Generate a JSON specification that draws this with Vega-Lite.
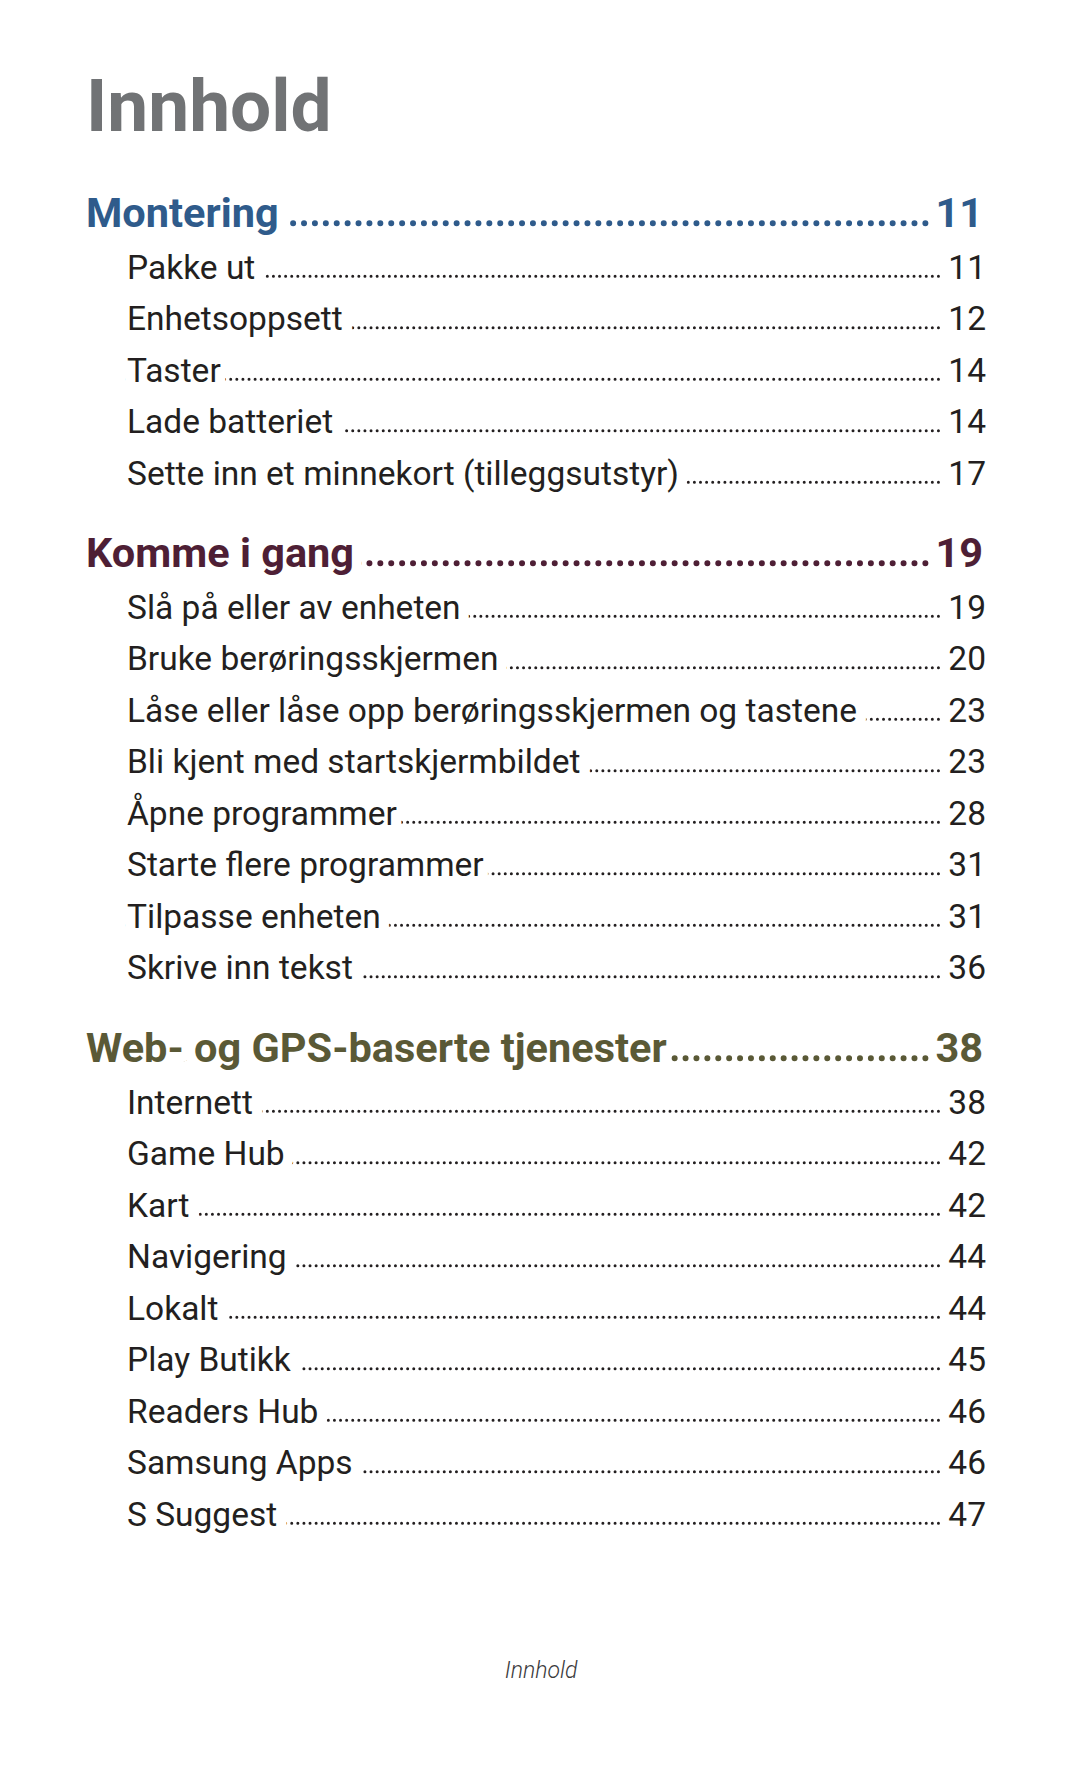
{
  "$schema": "https://vega.github.io/schema/vega-lite/v6.json",
  "background": "white",
  "padding": {"left": 86, "top": 40, "right": 10, "bottom": 10},
  "spacing": 43.5,
  "config": {"view": {"stroke": null}, "font": "Roboto"},
  "datasets": {
    "toc": [
      {"section": "Montering", "level": "section", "label": "Montering", "page": 11, "order": 0},
      {"section": "Montering", "level": "item", "label": "Pakke ut", "page": 11, "order": 1},
      {"section": "Montering", "level": "item", "label": "Enhetsoppsett", "page": 12, "order": 2},
      {"section": "Montering", "level": "item", "label": "Taster", "page": 14, "order": 3},
      {"section": "Montering", "level": "item", "label": "Lade batteriet", "page": 14, "order": 4},
      {"section": "Montering", "level": "item", "label": "Sette inn et minnekort (tilleggsutstyr)", "page": 17, "order": 5},
      {"section": "Komme i gang", "level": "section", "label": "Komme i gang", "page": 19, "order": 6},
      {"section": "Komme i gang", "level": "item", "label": "Slå på eller av enheten", "page": 19, "order": 7},
      {"section": "Komme i gang", "level": "item", "label": "Bruke berøringsskjermen", "page": 20, "order": 8},
      {"section": "Komme i gang", "level": "item", "label": "Låse eller låse opp berøringsskjermen og tastene", "page": 23, "order": 9},
      {"section": "Komme i gang", "level": "item", "label": "Bli kjent med startskjermbildet", "page": 23, "order": 10},
      {"section": "Komme i gang", "level": "item", "label": "Åpne programmer", "page": 28, "order": 11},
      {"section": "Komme i gang", "level": "item", "label": "Starte flere programmer", "page": 31, "order": 12},
      {"section": "Komme i gang", "level": "item", "label": "Tilpasse enheten", "page": 31, "order": 13},
      {"section": "Komme i gang", "level": "item", "label": "Skrive inn tekst", "page": 36, "order": 14},
      {"section": "Web- og GPS-baserte tjenester", "level": "section", "label": "Web- og GPS-baserte tjenester", "page": 38, "order": 15},
      {"section": "Web- og GPS-baserte tjenester", "level": "item", "label": "Internett", "page": 38, "order": 16},
      {"section": "Web- og GPS-baserte tjenester", "level": "item", "label": "Game Hub", "page": 42, "order": 17},
      {"section": "Web- og GPS-baserte tjenester", "level": "item", "label": "Kart", "page": 42, "order": 18},
      {"section": "Web- og GPS-baserte tjenester", "level": "item", "label": "Navigering", "page": 44, "order": 19},
      {"section": "Web- og GPS-baserte tjenester", "level": "item", "label": "Lokalt", "page": 44, "order": 20},
      {"section": "Web- og GPS-baserte tjenester", "level": "item", "label": "Play Butikk", "page": 45, "order": 21},
      {"section": "Web- og GPS-baserte tjenester", "level": "item", "label": "Readers Hub", "page": 46, "order": 22},
      {"section": "Web- og GPS-baserte tjenester", "level": "item", "label": "Samsung Apps", "page": 46, "order": 23},
      {"section": "Web- og GPS-baserte tjenester", "level": "item", "label": "S Suggest", "page": 47, "order": 24}
    ]
  },
  "vconcat": [
    {
      "width": 900,
      "height": 91,
      "data": {"values": [{"heading": "Innhold"}]},
      "mark": {"type": "text", "align": "left", "baseline": "alphabetic", "fontSize": 73, "fontWeight": "bold", "color": "#717375"},
      "encoding": {
        "text": {"field": "heading"},
        "x": {"value": 0},
        "y": {"value": "height"}
      }
    },
    {
      "data": {"name": "toc"},
      "bounds": "flush",
      "spacing": 31,
      "facet": {
        "row": {"field": "section", "type": "nominal", "title": null, "sort": {"field": "order", "op": "min"}, "header": {"labels": false, "title": null, "labelPadding": 0, "titlePadding": 0}}
      },
      "resolve": {"scale": {"y": "independent"}},
      "spec": {
        "width": 900,
        "height": {"step": 51.5},
        "encoding": {
          "y": {"field": "label", "type": "ordinal", "sort": {"field": "order", "op": "min"}, "axis": null, "bandPosition": 0.5},
          "x": {"field": "level", "type": "nominal", "axis": null, "scale": {"type": "point", "domain": ["section", "item"], "range": [0, 41], "padding": 0}}
        },
        "layer": [
          {
            "transform": [{"filter": "datum.level === 'item'"}],
            "mark": {"type": "rule", "strokeWidth": 3, "strokeDash": [0.001, 6.1], "strokeCap": "round", "color": "#231f20", "yOffset": 9.5, "x2Offset": -46, "clip": true},
            "encoding": {"x2": {"value": "width"}}
          },
          {
            "transform": [{"filter": "datum.level === 'section'"}],
            "mark": {"type": "rule", "strokeWidth": 6, "strokeDash": [0.001, 10.9], "strokeCap": "round", "yOffset": 8, "x2Offset": -52, "clip": true},
            "encoding": {
              "x2": {"value": "width"},
              "color": {"field": "section", "type": "nominal", "legend": null, "scale": {"domain": ["Montering", "Komme i gang", "Web- og GPS-baserte tjenester"], "range": ["#2f5b8b", "#4e1f35", "#5a5936"]}}
            }
          },
          {
            "transform": [{"filter": "datum.level === 'item'"}],
            "mark": {"type": "text", "align": "left", "baseline": "alphabetic", "dy": 12, "fontSize": 33.5, "fill": "white", "stroke": "white", "strokeWidth": 21, "strokeJoin": "round", "clip": true},
            "encoding": {"text": {"field": "label"}}
          },
          {
            "transform": [{"filter": "datum.level === 'section'"}],
            "mark": {"type": "text", "align": "left", "baseline": "alphabetic", "dy": 12, "fontSize": 41.5, "fontWeight": "bold", "fill": "white", "stroke": "white", "strokeWidth": 20, "strokeJoin": "round", "clip": true},
            "encoding": {"text": {"field": "label"}}
          },
          {
            "transform": [{"filter": "datum.level === 'item'"}],
            "mark": {"type": "text", "align": "left", "baseline": "alphabetic", "dy": 12, "fontSize": 33.5, "color": "#231f20"},
            "encoding": {"text": {"field": "label"}}
          },
          {
            "transform": [{"filter": "datum.level === 'item'"}],
            "mark": {"type": "text", "align": "right", "baseline": "alphabetic", "dy": 12, "fontSize": 33.5, "color": "#231f20"},
            "encoding": {"text": {"field": "page", "type": "nominal"}, "x": {"value": "width"}}
          },
          {
            "transform": [{"filter": "datum.level === 'section'"}],
            "mark": {"type": "text", "align": "left", "baseline": "alphabetic", "dy": 12, "fontSize": 41.5, "fontWeight": "bold"},
            "encoding": {
              "text": {"field": "label"},
              "color": {"field": "section", "type": "nominal", "legend": null, "scale": {"domain": ["Montering", "Komme i gang", "Web- og GPS-baserte tjenester"], "range": ["#2f5b8b", "#4e1f35", "#5a5936"]}}
            }
          },
          {
            "transform": [{"filter": "datum.level === 'section'"}],
            "mark": {"type": "text", "align": "right", "baseline": "alphabetic", "dy": 12, "dx": -3, "fontSize": 41.5, "fontWeight": "bold"},
            "encoding": {
              "text": {"field": "page", "type": "nominal"},
              "x": {"value": "width"},
              "color": {"field": "section", "type": "nominal", "legend": null, "scale": {"domain": ["Montering", "Komme i gang", "Web- og GPS-baserte tjenester"], "range": ["#2f5b8b", "#4e1f35", "#5a5936"]}}
            }
          }
        ]
      }
    },
    {
      "width": 910,
      "height": 95,
      "data": {"values": [{"footer": "Innhold"}]},
      "mark": {"type": "text", "align": "center", "baseline": "alphabetic", "fontSize": 23, "fontStyle": "italic", "fontWeight": 300, "color": "#3a3a3c"},
      "encoding": {
        "text": {"field": "footer"},
        "x": {"datum": 0.5, "type": "quantitative", "scale": {"domain": [0, 1]}, "axis": null},
        "y": {"value": "height"}
      }
    }
  ]
}
